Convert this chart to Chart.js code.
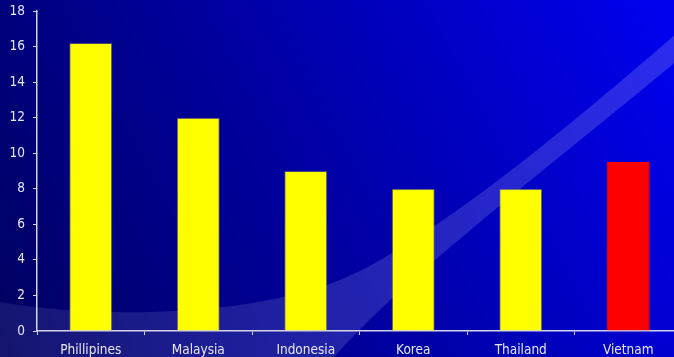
<!DOCTYPE html>
<html>
<head>
<meta charset="utf-8">
<script src="https://cdn.jsdelivr.net/npm/chart.js@4.4.1/dist/chart.umd.min.js"></script>
<style>
  html, body { margin: 0; padding: 0; background: #000080; overflow: hidden; }
  #wrap { width: 674px; height: 357px; overflow: hidden; }
  #box { width: 684px; height: 357px; }
</style>
</head>
<body>
<div id="wrap"><div id="box"><canvas id="myChart"></canvas></div></div>
<script>
'use strict';

// chart data
let countries = ['Phillipines', 'Malaysia', 'Indonesia', 'Korea', 'Thailand', 'Vietnam'];
let values = [16.2, 12, 9, 8, 8, 9.5];
let yTicks = [0, 2, 4, 6, 8, 10, 12, 14, 16, 18];
let highlighted = 'Vietnam';

let axisColor = '#d4d4e8';
let textColor = '#e6e6f2';
let labelFont = { family: '"DejaVu Sans Condensed", "DejaVu Sans", sans-serif', size: 13.5 };

// blue slide background with the light swoosh
let backdrop = {
  id: 'backdrop',
  beforeDraw(chart) {
    let c = chart.ctx;
    let w = chart.width;
    let h = chart.height;
    c.save();
    let bg = c.createLinearGradient(0, h, w, 0);
    bg.addColorStop(0, '#00005e');
    bg.addColorStop(0.45, '#0000a0');
    bg.addColorStop(1, '#0000f2');
    c.fillStyle = bg;
    c.fillRect(0, 0, w, h);

    let sw = c.createLinearGradient(0, 0, w, 0);
    sw.addColorStop(0, 'rgba(200,200,255,0.10)');
    sw.addColorStop(0.5, 'rgba(200,200,255,0.17)');
    sw.addColorStop(1, 'rgba(200,200,255,0.22)');
    c.beginPath();
    c.moveTo(0, 302);
    c.bezierCurveTo(90, 318, 240, 318, 335, 282);
    c.bezierCurveTo(430, 246, 600, 100, w, 27);
    c.lineTo(w, 55);
    c.bezierCurveTo(540, 175, 400, 280, 330, 362);
    c.lineTo(0, 362);
    c.closePath();
    c.fillStyle = sw;
    c.fill();
    c.restore();
  }
};

let ctx = document.getElementById('myChart').getContext('2d');
let myChart = new Chart(ctx, {
  type: 'bar',
  data: {
    labels: countries,
    datasets: [{
      data: values,
      backgroundColor: countries.map(name => name === highlighted ? '#ff0000' : '#ffff00'),
      borderColor: countries.map(name => name === highlighted ? '#ff0000' : 'rgba(120,120,100,0.6)'),
      borderWidth: 1,
      barPercentage: 0.4,
      categoryPercentage: 1
    }]
  },
  options: {
    responsive: true,
    maintainAspectRatio: false,
    animation: false,
    devicePixelRatio: 1,
    layout: { padding: { top: 11, right: 2, left: 0, bottom: 0 } },
    plugins: {
      legend: { display: false },
      tooltip: { enabled: false }
    },
    scales: {
      x: {
        grid: { display: true, drawOnChartArea: false, drawTicks: true, tickLength: 4, color: axisColor, offset: true },
        border: { display: true, color: axisColor, width: 1.5 },
        ticks: { color: textColor, font: labelFont, padding: 7, maxRotation: 0 },
        afterFit(scale) { scale.height = 26; scale.paddingLeft = 0; scale.paddingRight = 0; }
      },
      y: {
        min: 0,
        max: 18,
        afterBuildTicks(scale) { scale.ticks = yTicks.map(v => ({ value: v })); },
        grid: { display: true, drawOnChartArea: false, drawTicks: true, tickLength: 4, color: axisColor },
        border: { display: true, color: axisColor, width: 1.5 },
        ticks: { color: textColor, font: labelFont, padding: 8 },
        afterFit(scale) { scale.width = 37; scale.paddingTop = 0; scale.paddingBottom = 0; }
      }
    }
  },
  plugins: [backdrop]
});
</script>
</body>
</html>
